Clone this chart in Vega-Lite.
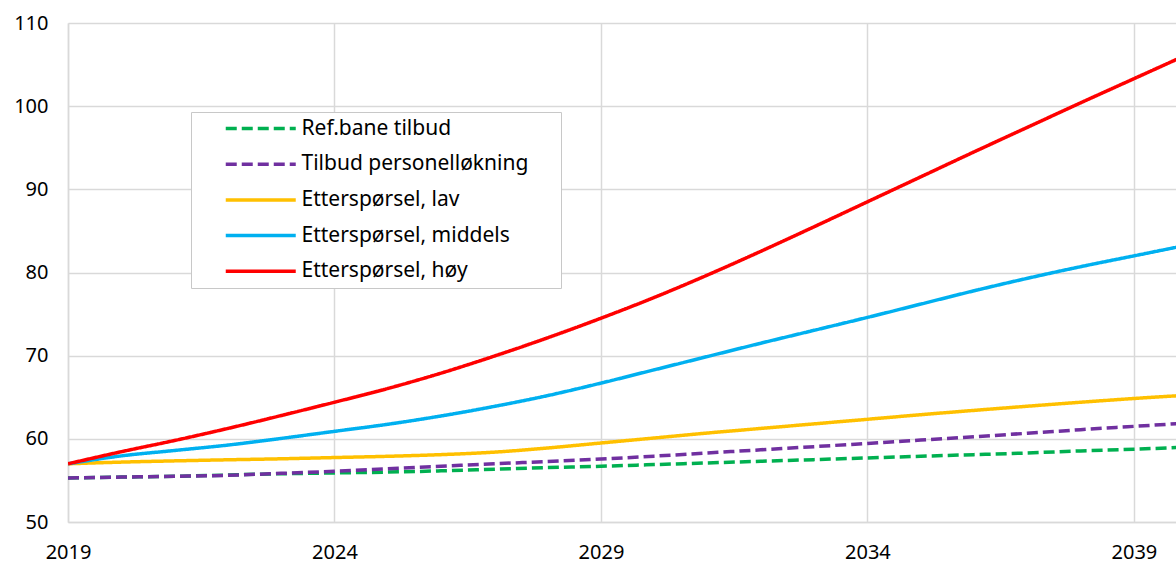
{
  "$schema": "https://vega.github.io/schema/vega-lite/v6.json",
  "width": 1108,
  "height": 499,
  "autosize": {"type": "none"},
  "padding": {"left": 68, "top": 23, "right": 0, "bottom": 41},
  "background": "white",
  "config": {"view": {"stroke": null}, "font": "Noto Sans"},
  "data": {
    "values": [
      {"year": 2019, "series": "Ref.bane tilbud", "value": 55.3},
      {"year": 2020, "series": "Ref.bane tilbud", "value": 55.4},
      {"year": 2021, "series": "Ref.bane tilbud", "value": 55.5},
      {"year": 2022, "series": "Ref.bane tilbud", "value": 55.65},
      {"year": 2023, "series": "Ref.bane tilbud", "value": 55.8},
      {"year": 2024, "series": "Ref.bane tilbud", "value": 55.9},
      {"year": 2025, "series": "Ref.bane tilbud", "value": 56.0},
      {"year": 2026, "series": "Ref.bane tilbud", "value": 56.15},
      {"year": 2027, "series": "Ref.bane tilbud", "value": 56.35},
      {"year": 2028, "series": "Ref.bane tilbud", "value": 56.55},
      {"year": 2029, "series": "Ref.bane tilbud", "value": 56.7},
      {"year": 2030, "series": "Ref.bane tilbud", "value": 56.9},
      {"year": 2031, "series": "Ref.bane tilbud", "value": 57.1},
      {"year": 2032, "series": "Ref.bane tilbud", "value": 57.3},
      {"year": 2033, "series": "Ref.bane tilbud", "value": 57.5},
      {"year": 2034, "series": "Ref.bane tilbud", "value": 57.7},
      {"year": 2035, "series": "Ref.bane tilbud", "value": 57.9},
      {"year": 2036, "series": "Ref.bane tilbud", "value": 58.1},
      {"year": 2037, "series": "Ref.bane tilbud", "value": 58.3},
      {"year": 2038, "series": "Ref.bane tilbud", "value": 58.55},
      {"year": 2039, "series": "Ref.bane tilbud", "value": 58.75},
      {"year": 2040, "series": "Ref.bane tilbud", "value": 59.0},
      {"year": 2019, "series": "Tilbud personelløkning", "value": 55.3},
      {"year": 2020, "series": "Tilbud personelløkning", "value": 55.4},
      {"year": 2021, "series": "Tilbud personelløkning", "value": 55.5},
      {"year": 2022, "series": "Tilbud personelløkning", "value": 55.62},
      {"year": 2023, "series": "Tilbud personelløkning", "value": 55.85},
      {"year": 2024, "series": "Tilbud personelløkning", "value": 56.1},
      {"year": 2025, "series": "Tilbud personelløkning", "value": 56.4},
      {"year": 2026, "series": "Tilbud personelløkning", "value": 56.7},
      {"year": 2027, "series": "Tilbud personelløkning", "value": 57.0},
      {"year": 2028, "series": "Tilbud personelløkning", "value": 57.27},
      {"year": 2029, "series": "Tilbud personelløkning", "value": 57.57},
      {"year": 2030, "series": "Tilbud personelløkning", "value": 57.92},
      {"year": 2031, "series": "Tilbud personelløkning", "value": 58.3},
      {"year": 2032, "series": "Tilbud personelløkning", "value": 58.68},
      {"year": 2033, "series": "Tilbud personelløkning", "value": 59.06},
      {"year": 2034, "series": "Tilbud personelløkning", "value": 59.45},
      {"year": 2035, "series": "Tilbud personelløkning", "value": 59.85},
      {"year": 2036, "series": "Tilbud personelløkning", "value": 60.25},
      {"year": 2037, "series": "Tilbud personelløkning", "value": 60.67},
      {"year": 2038, "series": "Tilbud personelløkning", "value": 61.1},
      {"year": 2039, "series": "Tilbud personelløkning", "value": 61.5},
      {"year": 2040, "series": "Tilbud personelløkning", "value": 61.9},
      {"year": 2019, "series": "Etterspørsel, lav", "value": 57.0},
      {"year": 2020, "series": "Etterspørsel, lav", "value": 57.2},
      {"year": 2021, "series": "Etterspørsel, lav", "value": 57.35},
      {"year": 2022, "series": "Etterspørsel, lav", "value": 57.48},
      {"year": 2023, "series": "Etterspørsel, lav", "value": 57.6},
      {"year": 2024, "series": "Etterspørsel, lav", "value": 57.75},
      {"year": 2025, "series": "Etterspørsel, lav", "value": 57.9},
      {"year": 2026, "series": "Etterspørsel, lav", "value": 58.1},
      {"year": 2027, "series": "Etterspørsel, lav", "value": 58.4},
      {"year": 2028, "series": "Etterspørsel, lav", "value": 58.9},
      {"year": 2029, "series": "Etterspørsel, lav", "value": 59.5},
      {"year": 2030, "series": "Etterspørsel, lav", "value": 60.1},
      {"year": 2031, "series": "Etterspørsel, lav", "value": 60.7},
      {"year": 2032, "series": "Etterspørsel, lav", "value": 61.25},
      {"year": 2033, "series": "Etterspørsel, lav", "value": 61.8},
      {"year": 2034, "series": "Etterspørsel, lav", "value": 62.35},
      {"year": 2035, "series": "Etterspørsel, lav", "value": 62.9},
      {"year": 2036, "series": "Etterspørsel, lav", "value": 63.42},
      {"year": 2037, "series": "Etterspørsel, lav", "value": 63.92},
      {"year": 2038, "series": "Etterspørsel, lav", "value": 64.4},
      {"year": 2039, "series": "Etterspørsel, lav", "value": 64.85},
      {"year": 2040, "series": "Etterspørsel, lav", "value": 65.25},
      {"year": 2019, "series": "Etterspørsel, middels", "value": 57.0},
      {"year": 2020, "series": "Etterspørsel, middels", "value": 57.95},
      {"year": 2021, "series": "Etterspørsel, middels", "value": 58.6},
      {"year": 2022, "series": "Etterspørsel, middels", "value": 59.25},
      {"year": 2023, "series": "Etterspørsel, middels", "value": 60.05},
      {"year": 2024, "series": "Etterspørsel, middels", "value": 60.9},
      {"year": 2025, "series": "Etterspørsel, middels", "value": 61.75},
      {"year": 2026, "series": "Etterspørsel, middels", "value": 62.75},
      {"year": 2027, "series": "Etterspørsel, middels", "value": 63.9},
      {"year": 2028, "series": "Etterspørsel, middels", "value": 65.2},
      {"year": 2029, "series": "Etterspørsel, middels", "value": 66.7},
      {"year": 2030, "series": "Etterspørsel, middels", "value": 68.3},
      {"year": 2031, "series": "Etterspørsel, middels", "value": 69.9},
      {"year": 2032, "series": "Etterspørsel, middels", "value": 71.5},
      {"year": 2033, "series": "Etterspørsel, middels", "value": 73.05},
      {"year": 2034, "series": "Etterspørsel, middels", "value": 74.6},
      {"year": 2035, "series": "Etterspørsel, middels", "value": 76.2},
      {"year": 2036, "series": "Etterspørsel, middels", "value": 77.8},
      {"year": 2037, "series": "Etterspørsel, middels", "value": 79.3},
      {"year": 2038, "series": "Etterspørsel, middels", "value": 80.7},
      {"year": 2039, "series": "Etterspørsel, middels", "value": 82.0},
      {"year": 2040, "series": "Etterspørsel, middels", "value": 83.3},
      {"year": 2019, "series": "Etterspørsel, høy", "value": 57.0},
      {"year": 2020, "series": "Etterspørsel, høy", "value": 58.45},
      {"year": 2021, "series": "Etterspørsel, høy", "value": 59.8},
      {"year": 2022, "series": "Etterspørsel, høy", "value": 61.25},
      {"year": 2023, "series": "Etterspørsel, høy", "value": 62.8},
      {"year": 2024, "series": "Etterspørsel, høy", "value": 64.4},
      {"year": 2025, "series": "Etterspørsel, høy", "value": 66.05},
      {"year": 2026, "series": "Etterspørsel, høy", "value": 67.9},
      {"year": 2027, "series": "Etterspørsel, høy", "value": 69.95},
      {"year": 2028, "series": "Etterspørsel, høy", "value": 72.15},
      {"year": 2029, "series": "Etterspørsel, høy", "value": 74.5},
      {"year": 2030, "series": "Etterspørsel, høy", "value": 77.0},
      {"year": 2031, "series": "Etterspørsel, høy", "value": 79.7},
      {"year": 2032, "series": "Etterspørsel, høy", "value": 82.55},
      {"year": 2033, "series": "Etterspørsel, høy", "value": 85.5},
      {"year": 2034, "series": "Etterspørsel, høy", "value": 88.5},
      {"year": 2035, "series": "Etterspørsel, høy", "value": 91.5},
      {"year": 2036, "series": "Etterspørsel, høy", "value": 94.5},
      {"year": 2037, "series": "Etterspørsel, høy", "value": 97.45},
      {"year": 2038, "series": "Etterspørsel, høy", "value": 100.4},
      {"year": 2039, "series": "Etterspørsel, høy", "value": 103.3},
      {"year": 2040, "series": "Etterspørsel, høy", "value": 106.2}
    ]
  },
  "mark": {"type": "line", "strokeWidth": 3.5, "interpolate": "monotone", "clip": true},
  "encoding": {
    "x": {
      "field": "year",
      "type": "quantitative",
      "scale": {"domain": [2019, 2039.79], "nice": false, "zero": false},
      "axis": {
        "values": [2019, 2024, 2029, 2034, 2039],
        "format": "d",
        "title": null,
        "grid": true,
        "gridColor": "#d9d9d9",
        "gridWidth": 1.5,
        "domainColor": "#d9d9d9",
        "domainWidth": 1.5,
        "ticks": false,
        "labelPadding": 20,
        "labelFontSize": 20,
        "labelFont": "Noto Sans",
        "labelColor": "#000000",
        "labelFlush": false,
        "labelOverlap": false
      }
    },
    "y": {
      "field": "value",
      "type": "quantitative",
      "scale": {"domain": [50, 110], "nice": false, "zero": false},
      "axis": {
        "values": [50, 60, 70, 80, 90, 100, 110],
        "title": null,
        "grid": true,
        "gridColor": "#d9d9d9",
        "gridWidth": 1.5,
        "domainColor": "#d9d9d9",
        "domainWidth": 1.5,
        "ticks": false,
        "labelPadding": 20,
        "labelFontSize": 20,
        "labelFont": "Noto Sans",
        "labelColor": "#000000",
        "labelFlush": false,
        "labelOverlap": false
      }
    },
    "color": {
      "field": "series",
      "type": "nominal",
      "scale": {
        "domain": ["Ref.bane tilbud", "Tilbud personelløkning", "Etterspørsel, lav", "Etterspørsel, middels", "Etterspørsel, høy"],
        "range": ["#00B050", "#7030A0", "#FFC000", "#00B0F0", "#FF0000"]
      },
      "legend": {
        "title": null,
        "orient": "none",
        "legendX": 123,
        "legendY": 89,
        "symbolType": "M-5,0H5",
        "symbolSize": 196,
        "symbolStrokeWidth": 3.5,
        "labelFontSize": 21,
        "labelFont": "Noto Sans",
        "labelColor": "#000000",
        "labelLimit": 400,
        "labelExpr": "datum.label + '\u00a0\u00a0\u2800'",
        "strokeColor": "#c8c8c8",
        "fillColor": "white",
        "padding": 6,
        "symbolOffset": 53.25,
        "labelOffset": 30.25,
        "rowPadding": 13.7
      }
    },
    "strokeDash": {
      "field": "series",
      "type": "nominal",
      "scale": {
        "domain": ["Ref.bane tilbud", "Tilbud personelløkning", "Etterspørsel, lav", "Etterspørsel, middels", "Etterspørsel, høy"],
        "range": [[11, 5], [11, 5], [1, 0], [1, 0], [1, 0]]
      },
      "legend": {
        "title": null,
        "orient": "none",
        "legendX": 123,
        "legendY": 89,
        "symbolType": "M-5,0H5",
        "symbolSize": 196,
        "symbolStrokeWidth": 3.5,
        "labelFontSize": 21,
        "labelFont": "Noto Sans",
        "labelColor": "#000000",
        "labelLimit": 400,
        "labelExpr": "datum.label + '\u00a0\u00a0\u2800'",
        "strokeColor": "#c8c8c8",
        "fillColor": "white",
        "padding": 6,
        "symbolOffset": 53.25,
        "labelOffset": 30.25,
        "rowPadding": 13.7
      }
    }
  }
}
